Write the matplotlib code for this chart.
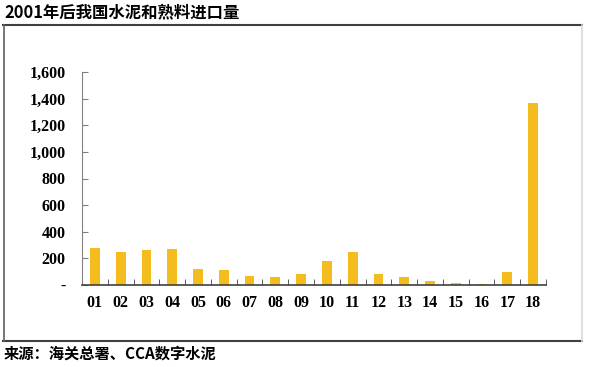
import numpy as np
import matplotlib.pyplot as plt
from matplotlib.lines import Line2D

years = ['01', '02', '03', '04', '05', '06', '07', '08', '09', '10', '11', '12',
         '13', '14', '15', '16', '17', '18']
imports = [275, 250, 262, 268, 120, 113, 65, 62, 80, 183, 245, 82, 62, 32, 15, 5, 97, 1365]
yticks = [0, 200, 400, 600, 800, 1000, 1200, 1400, 1600]
ylabels = ['-', '200', '400', '600', '800', '1,000', '1,200', '1,400', '1,600']

cjk = ['Noto Sans CJK SC', 'DejaVu Sans']
serif = ['Liberation Serif', 'DejaVu Serif']

W, H = 590, 367
fig = plt.figure(figsize=(W / 100, H / 100), dpi=100)

# outer frame
fig.add_artist(Line2D([3 / W, 582 / W], [1 - 25 / H, 1 - 25 / H], color='#404040', lw=1.5))
fig.add_artist(Line2D([3 / W, 582 / W], [1 - 341 / H, 1 - 341 / H], color='#404040', lw=1.5))
fig.add_artist(Line2D([3.5 / W, 3.5 / W], [1 - 25 / H, 1 - 341 / H], color='#606060', lw=1.2))
fig.add_artist(Line2D([582 / W, 582 / W], [1 - 25 / H, 1 - 341 / H], color='#d8d8d8', lw=1.2))

fig.text(4 / W, 1 - 12 / H, '2001年后我国水泥和熟料进口量', family=cjk, fontsize=11.8,
         fontweight='bold', va='center', ha='left')
fig.text(4 / W, 1 - 354 / H, '来源：海关总署、CCA数字水泥', family=cjk, fontsize=11,
         fontweight='bold', va='center', ha='left')

ax = fig.add_axes([82 / W, 1 - 285 / H, (546 - 82) / W, (285 - 72) / H])
x = np.arange(len(years))
ax.bar(x, imports, width=0.38, color='#F5BC1E')
ax.set_xlim(-0.5, len(years) - 0.5)
ax.set_ylim(0, 1600)

ax.set_yticks(yticks)
ax.set_yticklabels(ylabels, family=serif, fontweight='bold', fontsize=11.5)
ax.set_xticks(x)
ax.set_xticklabels(years, family=serif, fontweight='bold', fontsize=11.5)
ax.set_xticks(np.arange(len(years) + 1) - 0.5, minor=True)
ax.tick_params(axis='x', which='major', length=0, pad=7)
ax.tick_params(axis='x', which='minor', direction='in', length=4, color='#404040')
ax.tick_params(axis='y', direction='in', length=4, color='#808080', pad=12)

for s in ['top', 'right']:
    ax.spines[s].set_visible(False)
ax.spines['left'].set_color('#808080')
ax.spines['bottom'].set_color('#404040')
ax.spines['bottom'].set_linewidth(1.2)

fig.savefig('out.png', dpi=100)
